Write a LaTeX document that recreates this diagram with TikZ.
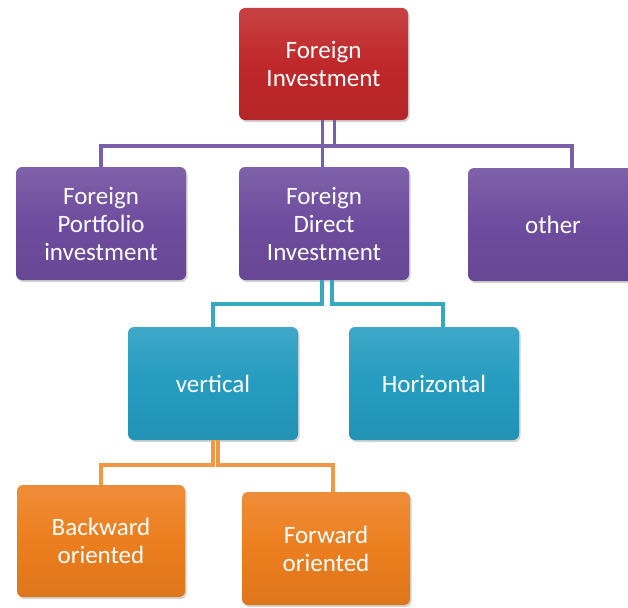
\documentclass[tikz,border=0pt]{standalone}
\usepackage{fontspec}
\setmainfont{Carlito}
\usetikzlibrary{shadows}

\definecolor{redbox}{HTML}{C0282A}
\definecolor{purplebox}{HTML}{6E4C9E}
\definecolor{tealbox}{HTML}{249CC0}
\definecolor{orangebox}{HTML}{EC7E1E}
\definecolor{purpleline}{HTML}{7A5EAA}
\definecolor{tealline}{HTML}{38A8C2}
\definecolor{orangeline}{HTML}{F09844}

\tikzset{
  box/.style={rounded corners=6pt, minimum width=170pt, minimum height=113pt,
    text=white, align=center, font=\fontsize{25}{28}\selectfont,
    top color=#1!88!white, bottom color=#1!94!black, middle color=#1,
    drop shadow={opacity=0.35, shadow xshift=1.5pt, shadow yshift=-2pt}},
  conn/.style={draw=#1, line width=3.5pt}
}

\begin{document}
\begin{tikzpicture}[x=1pt,y=-1pt]
    \useasboundingbox (0,0) rectangle (628,607);

    % connector levels
    \coordinate (pbar) at (0,146);
    \coordinate (tbar) at (0,304);
    \coordinate (obar) at (0,465);

    \node[box=redbox, minimum width=169pt, minimum height=112pt] at (323.5, 64)(fi){Foreign\\Investment};
    \node[box=purplebox] at (101, 223.5)(fpi){Foreign\\Portfolio\\investment};
    \node[box=purplebox] at (324, 223.5)(fdi){Foreign\\Direct\\Investment};
    \node[box=purplebox] at (553, 224.5)(oth){other};
    \node[box=tealbox] at (213, 383.5)(ver){vertical};
    \node[box=tealbox] at (434, 383.5)(hor){Horizontal};
    \node[box=orangebox, minimum width=168pt, minimum height=112pt] at (101, 541)(bwd){Backward\\oriented};
    \node[box=orangebox, minimum width=168pt] at (326, 548.5)(fwd){Forward\\oriented};

    \draw[conn=purpleline] ([xshift=-1pt]fi.south) -- ([xshift=-1pt]fi.south |- fdi.north);
    \draw[conn=purpleline] ([xshift=11pt]fi.south) |- (fpi.north |- pbar) -- (fpi.north);
    \draw[conn=purpleline] ([xshift=11pt]fi.south) |- ([xshift=19pt]oth.north |- pbar) -- ([xshift=19pt]oth.north);

    \draw[conn=tealline] ([xshift=-2pt]fdi.south) |- (ver.north |- tbar) -- (ver.north);
    \draw[conn=tealline] ([xshift=8pt]fdi.south) |- ([xshift=9pt]hor.north |- tbar) -- ([xshift=9pt]hor.north);

    \draw[conn=orangeline] (ver.south) |- (bwd.north |- obar) -- (bwd.north);
    \draw[conn=orangeline] ([xshift=5pt]ver.south) |- ([xshift=7pt]fwd.north |- obar) -- ([xshift=7pt]fwd.north);
\end{tikzpicture}
\end{document}
